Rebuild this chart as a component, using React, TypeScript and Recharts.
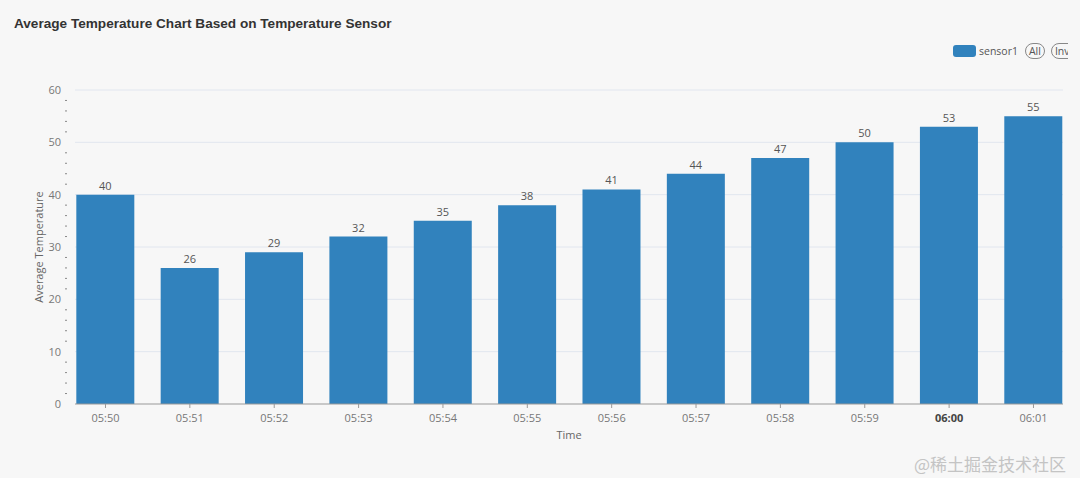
import { BarChart, Bar, XAxis, YAxis, CartesianGrid, LabelList, Label } from 'recharts'

const times = ['05:50', '05:51', '05:52', '05:53', '05:54', '05:55', '05:56', '05:57', '05:58', '05:59', '06:00', '06:01']
const sensor1 = [40, 26, 29, 32, 35, 38, 41, 44, 47, 50, 53, 55]
const yTicks = [0, 2, 4, 6, 8, 10, 12, 14, 16, 18, 20, 22, 24, 26, 28, 30, 32, 34, 36, 38, 40, 42, 44, 46, 48, 50, 52, 54, 56, 58, 60]
const gridValues = [10, 20, 30, 40, 50, 60]
const boldTick = '06:00'

const BLUE = '#3182bd'
const FONT = '"Open Sans", "Noto Sans", sans-serif'

// time slots as positions on a numeric axis, so the bars sit like the original time axis
const rows = times.map((t, i) => ({ slot: i, time: t, sensor1: sensor1[i] }))
const slotTicks = times.map((_, i) => i)

const YTick = ({ x, y, payload }: any) => {
  const v = payload.value
  const major = v % 10 === 0
  return (
    <g>
      {major ? (
        <text x={x - 6} y={y} dy={4} textAnchor="end" fontSize={11} fill="#777" fontFamily={FONT}>{v}</text>
      ) : (
        <line x1={x - 2} x2={x} y1={y} y2={y} stroke="#888" strokeWidth={1} />
      )}
    </g>
  )
}

const XTick = ({ x, y, payload }: any) => {
  const label = times[payload.value]
  const b = label === boldTick
  return (
    <text x={x} y={y + 12} textAnchor="middle" fontSize={11} fill={b ? '#444' : '#777'}
      fontWeight={b ? 700 : 400} fontFamily={FONT}>{label}</text>
  )
}

export default function App() {
  return (
    <div style={{ position: 'absolute', left: 0, top: 0, width: 1080, height: 478, background: '#f7f7f7', overflow: 'hidden', fontFamily: FONT }}>
      <div style={{ position: 'absolute', left: 14, top: 16, fontSize: 13.6, fontWeight: 700, color: '#333', fontFamily: '"Liberation Sans", Arial, sans-serif' }}>
        Average Temperature Chart Based on Temperature Sensor
      </div>
      <div style={{ position: 'absolute', left: 953, top: 43, display: 'flex', alignItems: 'center', fontSize: 10.5, color: '#555', whiteSpace: 'nowrap', width: 115, overflow: 'hidden' }}>
        <span style={{ flexShrink: 0, display: 'inline-block', width: 23, height: 12, borderRadius: 3, background: BLUE, marginRight: 3 }} />
        <span style={{ flexShrink: 0 }}>sensor1</span>
        <span style={{ flexShrink: 0, marginLeft: 7, border: '1px solid #888', borderRadius: 9, padding: '0 3px', lineHeight: '14px' }}>All</span>
        <span style={{ flexShrink: 0, marginLeft: 6, border: '1px solid #888', borderRadius: 9, padding: '0 3px', lineHeight: '14px' }}>Inverse</span>
      </div>
      <div style={{ position: 'absolute', left: 0, top: 0 }}>
        <BarChart width={1080} height={478} data={rows} margin={{ top: 90, right: 17, bottom: 30, left: 25 }}>
          <CartesianGrid vertical={false} stroke="#e1e6ef" horizontalValues={gridValues} />
          <XAxis dataKey="slot" type="number" domain={[-0.3615, 11.35]} ticks={slotTicks} interval={0}
            height={44} tick={<XTick />} tickLine={{ stroke: '#999' }} tickSize={4}
            axisLine={{ stroke: '#999' }} allowDataOverflow>
            <Label value="Time" position="insideBottom" offset={9} fontSize={11} fill="#666" />
          </XAxis>
          <YAxis width={50} domain={[0, 60]} ticks={yTicks} interval={0} tick={<YTick />} tickLine={false}
            axisLine={false}>
            <Label value="Average Temperature" angle={-90} position="insideLeft" offset={14}
              style={{ textAnchor: 'middle' }} fontSize={11} fill="#666" />
          </YAxis>
          <Bar dataKey="sensor1" fill={BLUE} barSize={58} isAnimationActive={false}>
            <LabelList dataKey="sensor1" position="top" offset={5} fontSize={11} fill="#555" />
          </Bar>
        </BarChart>
      </div>
      <div style={{ position: 'absolute', left: 914, top: 451, fontSize: 17, color: '#c4c4c4', fontFamily: '"Noto Sans CJK SC", sans-serif' }}>
        @稀土掘金技术社区
      </div>
    </div>
  )
}
